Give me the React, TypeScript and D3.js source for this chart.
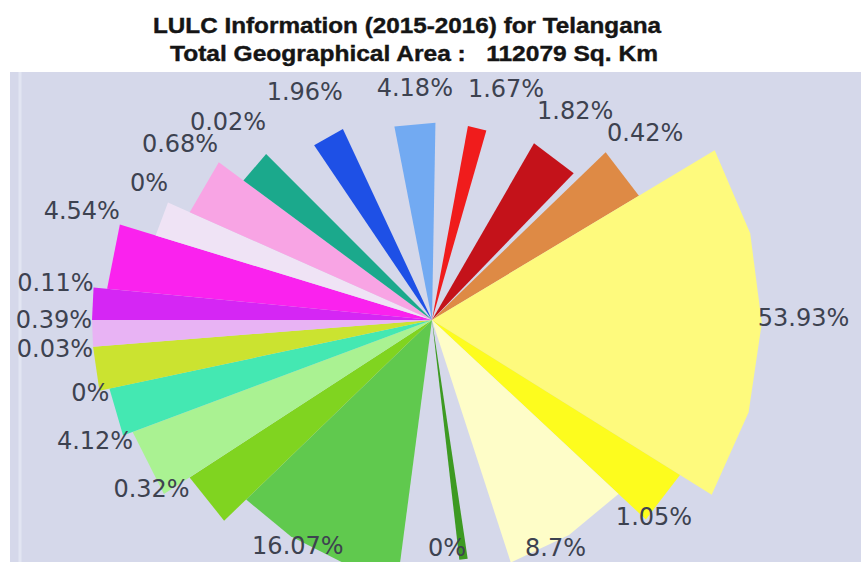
import React from 'react';
import * as d3 from 'd3';

// printed share of each land-use class, clockwise from the top
const shares = ['4.18%', '1.67%', '1.82%', '0.42%', '53.93%', '1.05%', '8.7%', '0%', '16.07%', '0.32%',
  '4.12%', '0%', '0.03%', '0.39%', '0.11%', '4.54%', '0%', '0.68%', '0.02%', '1.96%'];

const colors = ['#72aaf2', '#f01c1c', '#c4121a', '#de8a45', '#fefa7d', '#fdfc1e', '#fefdc8', '#3d9a22', '#60c94e', '#80d420',
  '#aaf292', '#44e8b2', '#cbe330', '#e8b3f4', '#d526f4', '#fa22ee', '#efe3f5', '#f8a4e4', '#1ba98c', '#1e50e6'];

// angular sweep of each wedge (degrees) as drawn in the picture
const sweep = [12, 5.5, 14, 13, 63, 11, 29, 2, 38.5, 11, 12.5, 8.5, 7.5, 4.5, 5.5, 11.5, 7, 12.5, 8.5, 9];
// empty sector after each wedge (degrees)
const gapAfter = [9.5, 14, 2, 0, 0, 0, 9.5, 14, 0, 0, 0, 0, 0, 0, 0, 0, 0, 0, 11, 14];
// wedge length, percent of the longest
const reach = [58, 58, 60, 71, 97, 86, 75, 71, 76, 85, 94, 97, 100, 100, 100, 96, 85, 78, 69, 62];

const titleLines = ['LULC Information (2015-2016) for Telangana', 'Total Geographical Area :   112079 Sq. Km'];

const W = 861;
const H = 562;
const cx = 432;
const cy = 320;
const deg = Math.PI / 180;

export default function App() {
  type Piece = { idx: number; span: number };
  const pieces: Piece[] = [];
  sweep.forEach((s, i) => {
    pieces.push({ idx: i, span: s });
    if (gapAfter[i] > 0) pieces.push({ idx: -1, span: gapAfter[i] });
  });

  const start = -11 * deg;
  const pie = d3.pie<Piece>().value(d => d.span).sort(null).startAngle(start).endAngle(start + 2 * Math.PI);
  const arcs = pie(pieces).filter(a => a.data.idx >= 0);

  const rScale = d3.scaleLinear().domain([0, 100]).range([0, 340]);
  const line = d3.line();
  const step = 16 * deg;

  const wedge = (a0: number, a1: number, r: number) => {
    const n = Math.max(1, Math.ceil((a1 - a0) / step));
    const pts: [number, number][] = [[0, 0]];
    for (let k = 0; k <= n; k++) pts.push(d3.pointRadial(a0 + ((a1 - a0) * k) / n, r) as [number, number]);
    return line(pts) + 'Z';
  };

  const fontSize = 24;
  const bottomLimit = H - cy - 14;
  const lineGap = 22;

  type Label = { i: number; x: number; y: number; anchor: string; w: number; bottom: boolean };

  // label placement: bottom labels hang under the tip, narrow wedges are labelled at their upper corner
  const placeLabel = (a: d3.PieArc<Piece>): Label => {
    const i = a.data.idx;
    const w = shares[i].length * 0.62 * fontSize;
    const r = rScale(reach[i]);
    const mid = (a.startAngle + a.endAngle) / 2;
    const m = ((mid / deg) % 360 + 360) % 360;
    const half = (a.endAngle - a.startAngle) / 2;
    if (m >= 120 && m <= 220) {
      const [x, y] = d3.pointRadial(mid + 4 * deg, r + 4);
      return { i, x, y: Math.min(y, bottomLimit), anchor: 'middle', w, bottom: true };
    }
    const narrow = sweep[i] < 20;
    const shift = narrow ? Math.min(half, 6 * deg) : 0;
    const lift = (ang: number) => {
      const c = Math.cos(ang);
      return c > 0 ? -c * (35 + 15 * Math.abs(Math.sin(ang))) : -c * 20;
    };
    if (Math.abs(Math.sin(mid)) < 0.12) {
      const [x, y] = d3.pointRadial(mid, r);
      return { i, x, y: y + lift(mid), anchor: 'middle', w, bottom: false };
    }
    const right = Math.sin(mid) > 0;
    const ang = right ? mid - shift : mid + shift;
    const [x, y] = d3.pointRadial(ang, r + (narrow ? 0 : -4));
    return { i, x, y: y + lift(ang) - (narrow ? 0 : 5), anchor: right ? 'start' : 'end', w, bottom: false };
  };

  const span = (l: Label) =>
    l.anchor === 'start' ? [l.x, l.x + l.w] : l.anchor === 'end' ? [l.x - l.w, l.x] : [l.x - l.w / 2, l.x + l.w / 2];

  // push colliding labels apart, top to bottom
  const labels = arcs.map(placeLabel).sort((p, q) => p.y - q.y);
  const placed: Label[] = [];
  labels.forEach(l => {
    if (!l.bottom) {
      placed.forEach(o => {
        const [a0, a1] = span(l);
        const [b0, b1] = span(o);
        if (a0 < b1 && b0 < a1 && l.y - o.y < lineGap) l.y = o.y + lineGap;
      });
    }
    placed.push(l);
  });

  return (
    <svg width={W} height={H} style={{ position: 'absolute', left: 0, top: 0 }} fontFamily="'DejaVu Sans', Verdana, sans-serif">
      <rect width={W} height={H} fill="#ffffff" />
      <rect x={10} y={72} width={W - 10} height={H - 72} fill="#d5d8ea" />
      <line x1={20} x2={20} y1={72} y2={H} stroke="#e2e5f2" strokeWidth={3} />

      <g fontFamily="'Liberation Sans', Arial, sans-serif" fontWeight="bold" fontSize={22} fill="#151515" stroke="#151515" strokeWidth={0.4}>
        <text x={153} y={33} textLength={508} lengthAdjust="spacingAndGlyphs">{titleLines[0]}</text>
        <text x={170} y={61} textLength={488} lengthAdjust="spacingAndGlyphs" style={{ whiteSpace: 'pre' }}>{titleLines[1]}</text>
      </g>

      <g transform={`translate(${cx},${cy})`}>
        {arcs.map(a => (
          <path key={a.data.idx} d={wedge(a.startAngle, a.endAngle, rScale(reach[a.data.idx]))} fill={colors[a.data.idx]} />
        ))}
        {placed.map(p => (
          <text key={'l' + p.i} x={p.x} y={p.y} dy="0.35em" textAnchor={p.anchor} fontSize={fontSize} fill="#3d4250">
            {shares[p.i]}
          </text>
        ))}
      </g>
    </svg>
  );
}
